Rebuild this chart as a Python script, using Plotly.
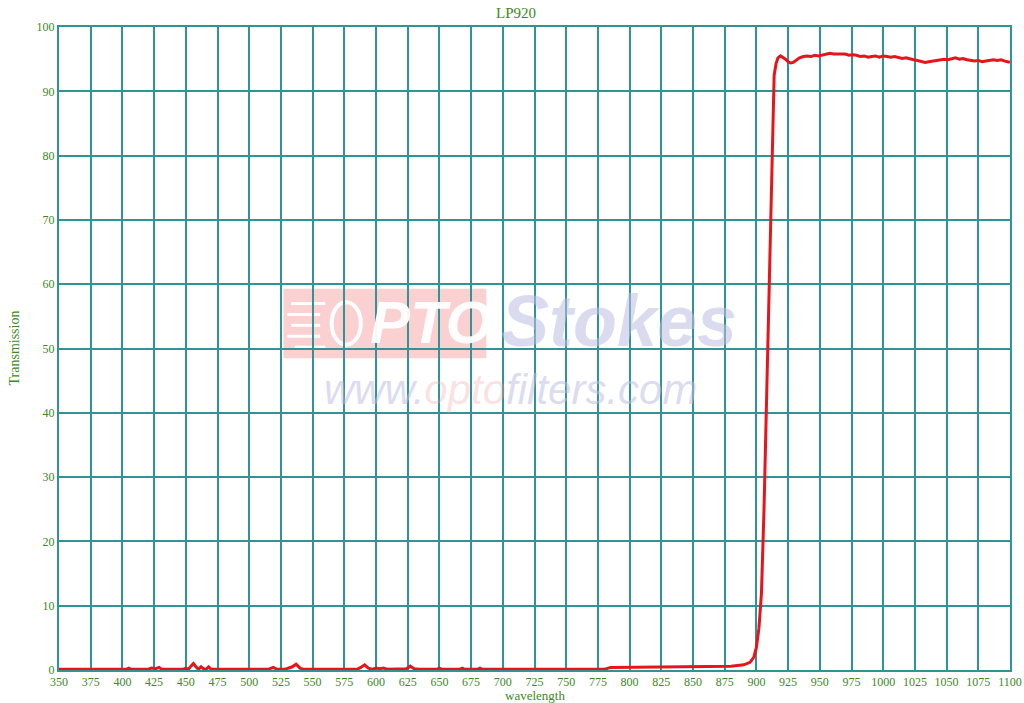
import plotly.graph_objects as go

wavelength = [350, 400, 403, 405, 407, 420, 423, 426, 429, 431, 448, 450, 452, 454, 456, 458, 460,
              462, 464, 466, 468, 470, 515, 519, 522, 528, 531, 534, 537, 540, 543, 585, 588, 591,
              594, 597, 600, 603, 606, 609, 624, 627, 630, 634, 648, 650, 652, 666, 668, 670, 680,
              682, 684, 780, 785, 850, 880, 890, 895, 898, 900, 902, 904, 906, 907.5, 909, 910.5,
              912, 913, 914, 915.5, 917, 919, 921, 923, 925, 927, 929, 931, 934, 937, 940, 943, 946,
              949, 952, 955, 958, 961, 964, 967, 970, 973, 976, 979, 982, 985, 988, 991, 994, 997,
              1000, 1003, 1006, 1009, 1012, 1015, 1018, 1021, 1024, 1027, 1030, 1033, 1036, 1039,
              1042, 1045, 1048, 1051, 1054, 1057, 1060, 1063, 1066, 1069, 1072, 1075, 1078, 1081,
              1084, 1087, 1090, 1093, 1096, 1099, 1100]
transmission = [0.1, 0.1, 0.1, 0.3, 0.1, 0.1, 0.3, 0.2, 0.4, 0.1, 0.1, 0.3, 0.1, 0.6, 1.0, 0.5, 0.1,
                0.5, 0.2, 0.1, 0.5, 0.1, 0.1, 0.4, 0.1, 0.1, 0.3, 0.5, 0.9, 0.3, 0.1, 0.1, 0.4, 0.8,
                0.3, 0.1, 0.3, 0.2, 0.3, 0.1, 0.2, 0.6, 0.2, 0.1, 0.1, 0.3, 0.1, 0.1, 0.3, 0.1, 0.1,
                0.3, 0.1, 0.1, 0.4, 0.5, 0.6, 0.8, 1.2, 2.0, 3.5, 6.5, 12, 25, 38, 52, 66,
                80, 88, 92.5, 94.3, 95.2, 95.5, 95.3, 95.0, 94.6, 94.4, 94.5, 94.8, 95.2, 95.4, 95.5,
                95.4, 95.6, 95.5, 95.6, 95.7, 95.9, 95.8, 95.8, 95.7, 95.8, 95.6, 95.7, 95.6, 95.4,
                95.5, 95.3, 95.4, 95.5, 95.3, 95.5, 95.4, 95.3, 95.4, 95.3, 95.1, 95.2, 95.0, 94.9,
                94.8, 94.6, 94.5, 94.6, 94.7, 94.8, 94.9, 95.0, 94.9, 95.1, 95.2, 95.0, 95.1, 94.9,
                94.8, 94.7, 94.8, 94.6, 94.7, 94.8, 94.9, 94.8, 94.9, 94.7, 94.6, 94.5]

x_ticks = list(range(350, 1101, 25))
y_ticks = list(range(0, 101, 10))

GRID = "#2f9494"
TXT = "#3d8a1e"
FONT = "Liberation Serif"

fig = go.Figure()
fig.add_trace(go.Scatter(x=wavelength, y=transmission, mode="lines",
                         line=dict(color="#e8141c", width=3), hoverinfo="skip"))

# watermark
fig.add_shape(type="rect", xref="x", yref="y", x0=527, x1=687, y0=48.5, y1=59.3,
              fillcolor="rgba(246,170,170,0.55)", line=dict(width=0), layer="below")
fig.add_shape(type="circle", xref="x", yref="y", x0=565, x1=588, y0=50.6, y1=57.2,
              fillcolor="rgba(0,0,0,0)", line=dict(color="white", width=4), layer="below")
for yy, xa, xb in [(57.0, 533, 560), (55.3, 530, 556), (53.6, 533, 556), (51.9, 530, 556), (50.2, 536, 560)]:
    fig.add_shape(type="line", xref="x", yref="y", x0=xa, x1=xb, y0=yy, y1=yy,
                  line=dict(color="white", width=3), layer="below")
fig.add_annotation(x=643, y=54, xref="x", yref="y", text="<b><i>PTO</i></b>", showarrow=False,
                   font=dict(family="Liberation Sans", size=60, color="rgba(255,255,255,0.95)"))
fig.add_annotation(x=792, y=54.2, xref="x", yref="y", text="<b><i>Stokes</i></b>", showarrow=False,
                   font=dict(family="Liberation Sans", size=72, color="rgba(190,190,228,0.55)"))
fig.add_annotation(x=706, y=43.6, xref="x", yref="y",
                   text="<i>www.<span style='color:rgba(245,160,160,0.6)'>opto</span>filters.com</i>",
                   showarrow=False,
                   font=dict(family="Liberation Sans", size=42, color="rgba(190,190,228,0.55)"))

# title and axis titles
fig.add_annotation(x=0.4805, y=1, xref="paper", yref="paper", yanchor="middle", yshift=14,
                   text="LP920", showarrow=False, font=dict(family=FONT, size=15, color=TXT))
fig.add_annotation(x=0.5, y=0, xref="paper", yref="paper", yanchor="middle", yshift=-25,
                   text="wavelength", showarrow=False, font=dict(family=FONT, size=13, color=TXT))
fig.add_annotation(x=0, y=0.5, xref="paper", yref="paper", xanchor="center", xshift=-45,
                   textangle=-90, text="Transmission", showarrow=False,
                   font=dict(family=FONT, size=14, color=TXT))

fig.update_layout(
    width=1024, height=703,
    margin=dict(l=59, r=14, t=27, b=33, autoexpand=False),
    paper_bgcolor="white", plot_bgcolor="white",
    showlegend=False,
    font=dict(family=FONT, size=12, color=TXT),
)
fig.update_xaxes(range=[350, 1100], tickvals=x_ticks, ticktext=[str(v) for v in x_ticks],
                 automargin=False,
                 showgrid=True, gridcolor=GRID, gridwidth=2, zeroline=False,
                 showline=True, linecolor=GRID, linewidth=2, mirror=True,
                 ticks="", ticklen=0, tickfont=dict(family=FONT, size=12, color=TXT))
fig.update_yaxes(range=[0, 100], tickvals=y_ticks, ticktext=[str(v) for v in y_ticks],
                 automargin=False,
                 showgrid=True, gridcolor=GRID, gridwidth=2, zeroline=False,
                 showline=True, linecolor=GRID, linewidth=2, mirror=True,
                 ticks="", ticklen=0, tickfont=dict(family=FONT, size=12, color=TXT))

fig.write_html("out.html", config={"displayModeBar": False},
               post_script="document.body.style.margin='0';document.body.style.overflow='hidden';")
